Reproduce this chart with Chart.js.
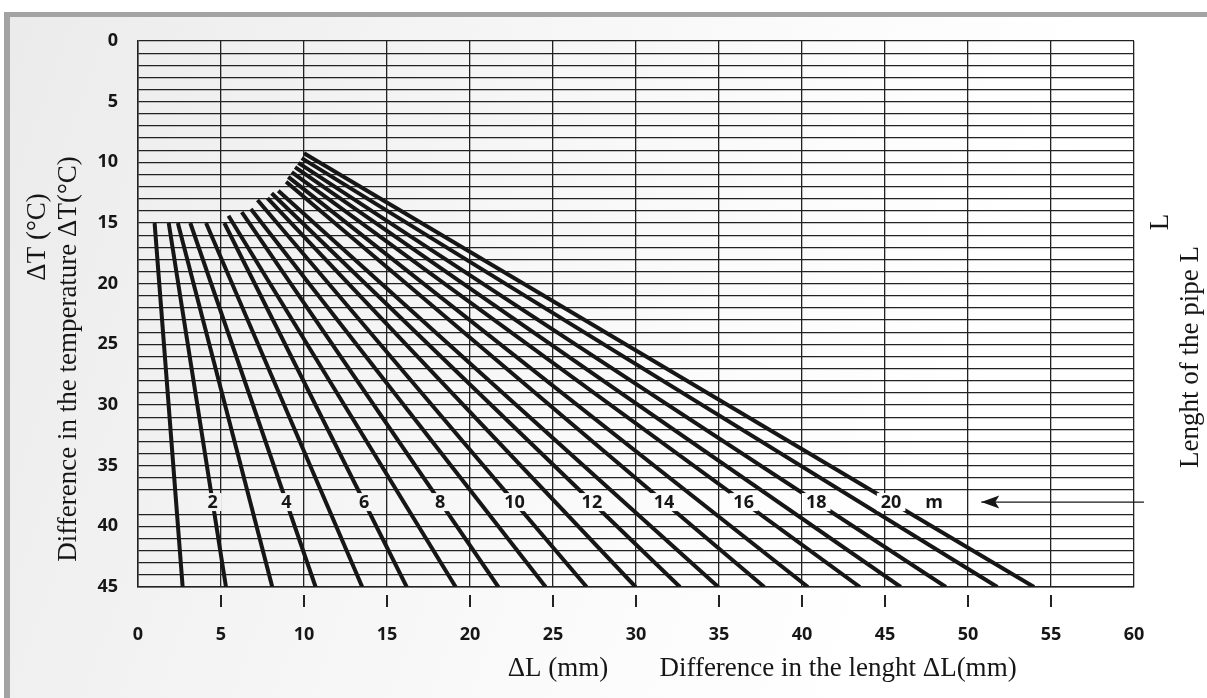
<!DOCTYPE html>
<html><head><meta charset="utf-8">
<script src="https://cdn.jsdelivr.net/npm/chart.js@4/dist/chart.umd.min.js"></script>
<style>
html,body{margin:0;padding:0;background:#fff;}
#wrap{position:absolute;left:0;top:0;width:1207px;height:698px;overflow:hidden;}
#frame{position:absolute;left:4px;top:12px;width:1215px;height:700px;border-left:6px solid #a3a3a3;border-top:5px solid #a3a3a3;
background:linear-gradient(110deg,#ebebeb 0%,#f4f4f4 30%,#fbfbfb 55%,#ffffff 75%,#ffffff 100%);}
canvas{position:absolute;left:0;top:0;}
</style></head>
<body><div id="wrap"><div id="frame"></div><canvas id="c" width="1207" height="698"></canvas></div>
<script>
// Pipe lengths L (m)
const pipeLengths = [1,2,3,4,5,6,7,8,9,10,11,12,13,14,15,16,17,18,19,20];
// start point of each line (ΔL mm, ΔT °C)
const startDL = [1.0,1.85,2.4,3.15,4.1,5.2,5.45,6.25,6.8,7.2,7.8,8.05,8.45,8.92,9.05,9.26,9.46,9.66,9.86,10.0];
const startDT = [15.0,15.0,15.0,15.0,15.0,15.0,14.4,14.1,13.85,13.1,12.95,12.55,12.35,11.6,11.2,10.8,10.4,10.05,9.65,9.25];
// end point of each line at ΔT = 45
const endDL = [2.69,5.30,8.09,10.70,13.51,16.19,19.14,21.71,24.56,27.03,29.98,32.65,34.96,37.73,40.36,43.49,45.95,48.67,51.77,53.98];
const endDT = [45,45,45,45,45,45,45,45,45,45,45,45,45,45,45,45,45,45,45,45];
// labelled lines and label row
const labelledL = [2,4,6,8,10,12,14,16,18,20];
const labelRowDT = 38;
const unitLabel = "m";
const unitLabelDL = 47.95;
// arrow (tail -> tip) along the label row
const arrowDL = [60.6, 50.8];
// axes
const xMin = 0, xMax = 60, xStep = 5;
const yMin = 0, yMax = 45, yStep = 1, yLabelEvery = 5;
const xTickMarks = [5,10,15,20,25,30,35,40,45,50,55];

const TICK_FONT = {family:'"Open Sans"', weight:'bold', size:18};
const LABEL_FONT = 'bold 18px "Open Sans"';
const SERIF = '27px "Liberation Serif", "Times New Roman", serif';
const INK = '#161616';
const GRID = '#222222';

const datasets = pipeLengths.map((L,i)=>({
  label: L + ' m',
  data: [{x:startDL[i], y:startDT[i]}, {x:endDL[i], y:endDT[i]}],
  showLine: true, borderColor: INK, borderWidth: 4, pointRadius: 0,
  borderCapStyle: 'butt', fill:false
}));
datasets.push({
  label:'arrow',
  data: arrowDL.map(x=>({x:x, y:labelRowDT})),
  showLine:true, borderColor:INK, borderWidth:1.3, pointRadius:0, clip:false
});

const tickMarkPlugin = {
  id:'tickMarks',
  afterDraw(chart){
    const ctx = chart.ctx, xs = chart.scales.x, b = chart.chartArea.bottom;
    ctx.save(); ctx.strokeStyle = GRID; ctx.lineWidth = 2;
    xTickMarks.forEach(v=>{
      const px = Math.round(xs.getPixelForValue(v));
      ctx.beginPath(); ctx.moveTo(px, b+8); ctx.lineTo(px, b+20); ctx.stroke();
    });
    ctx.restore();
  }
};

const labelPlugin = {
  id:'lineLabels',
  afterDatasetsDraw(chart){
    const ctx = chart.ctx, xs = chart.scales.x, ys = chart.scales.y;
    const py = ys.getPixelForValue(labelRowDT);
    ctx.save();
    ctx.font = LABEL_FONT;
    ctx.textAlign = 'center'; ctx.textBaseline = 'middle';
    const items = labelledL.map(L=>{
      const i = pipeLengths.indexOf(L);
      const t = (labelRowDT - startDT[i])/(endDT[i]-startDT[i]);
      const dl = startDL[i] + t*(endDL[i]-startDL[i]);
      return {text:String(L), px: xs.getPixelForValue(dl)};
    });
    items.push({text:unitLabel, px: xs.getPixelForValue(unitLabelDL)});
    ctx.globalCompositeOperation = 'destination-out';
    items.forEach(it=>{
      const w = ctx.measureText(it.text).width + 8;
      ctx.fillRect(it.px - w/2, py - 9, w, 18);
    });
    ctx.globalCompositeOperation = 'source-over';
    ctx.fillStyle = INK;
    items.forEach(it=>{ ctx.fillText(it.text, it.px, py + 1); });
    // arrow head at tip
    const tip = xs.getPixelForValue(arrowDL[1]);
    ctx.beginPath();
    ctx.moveTo(tip, py);
    ctx.lineTo(tip+18, py-6.5);
    ctx.lineTo(tip+14, py);
    ctx.lineTo(tip+18, py+6.5);
    ctx.closePath(); ctx.fill();
    ctx.restore();
  }
};

const titlePlugin = {
  id:'titles',
  afterDraw(chart){
    const ctx = chart.ctx;
    ctx.save();
    ctx.font = SERIF; ctx.fillStyle = INK;
    ctx.textAlign = 'center'; ctx.textBaseline = 'middle';
    const rot = (txt, x, y) => { ctx.save(); ctx.translate(x,y); ctx.rotate(-Math.PI/2); ctx.fillText(txt,0,0); ctx.restore(); };
    rot('ΔT (°C)', 38, 237);
    rot('Difference in the temperature ΔT(°C)', 69, 359);
    rot('L', 1161, 222);
    rot('Lenght of the pipe L', 1191, 357);
    ctx.fillText('ΔL (mm)', 558, 669);
    ctx.fillText('Difference in the lenght ΔL(mm)', 838, 669);
    ctx.restore();
  }
};

new Chart(document.getElementById('c'), {
  type:'scatter',
  data:{datasets},
  options:{
    responsive:false, animation:false, devicePixelRatio:1,
    layout:{padding:{left:0, top:41, right:73, bottom:0}},
    plugins:{legend:{display:false}, tooltip:{enabled:false}},
    scales:{
      x:{
        type:'linear', min:xMin, max:xMax,
        afterFit(s){ s.height = 111; },
        ticks:{stepSize:xStep, font:TICK_FONT, color:INK, padding:37, maxRotation:0, autoSkip:false},
        grid:{color:GRID, lineWidth:1.3, drawTicks:false},
        border:{color:GRID, width:1.5}
      },
      y:{
        type:'linear', min:yMin, max:yMax, reverse:true,
        afterFit(s){ s.width = 138; },
        ticks:{stepSize:yStep, autoSkip:false, font:TICK_FONT, color:INK, padding:20,
          callback:(v)=> (v % yLabelEvery === 0 ? String(v) : '')},
        grid:{drawTicks:false, lineWidth:1.2,
          color:(c)=> (c.tick && c.tick.value === labelRowDT ? 'rgba(0,0,0,0)' : GRID)},
        border:{color:GRID, width:1.5}
      }
    }
  },
  plugins:[tickMarkPlugin, labelPlugin, titlePlugin]
});
</script>
</body></html>
